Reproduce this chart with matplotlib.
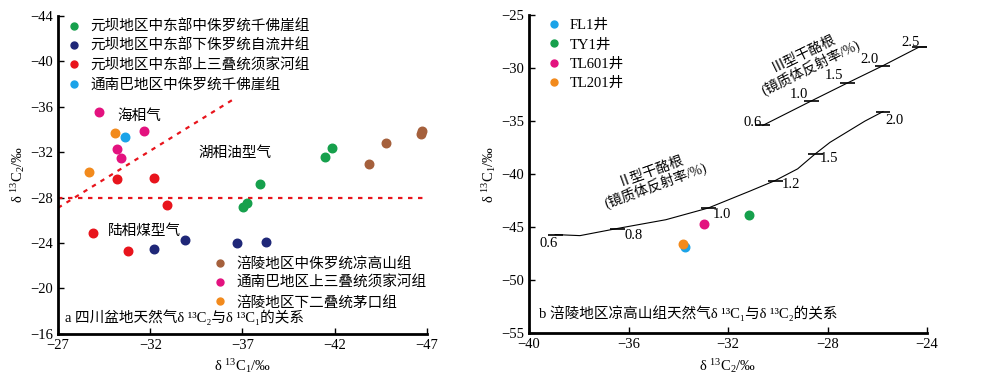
import matplotlib.pyplot as plt
from matplotlib.lines import Line2D

plt.rcParams['font.family'] = ['Liberation Serif', 'Noto Sans CJK SC']
plt.rcParams['mathtext.fontset'] = 'custom'
plt.rcParams['mathtext.rm'] = 'Liberation Serif'
plt.rcParams['mathtext.it'] = 'Liberation Serif:italic'
plt.rcParams['font.size'] = 10.5

# ---- panel a: d13C2 vs d13C1 (Sichuan basin)
groups_a = [
    ('元坝地区中东部中侏罗统千佛崖组', '#16a04c',
     [-37.96, -41.49, -41.83, -37.03, -37.26], [-29.2, -31.6, -32.4, -27.2, -27.5]),
    ('元坝地区中东部下侏罗统自流井组', '#1f2778',
     [-32.19, -33.9, -36.68, -38.3], [-23.5, -24.3, -24.0, -24.1]),
    ('元坝地区中东部上三叠统须家河组', '#e8141c',
     [-30.2, -32.19, -32.89, -28.9, -30.78], [-29.6, -29.7, -27.35, -24.9, -23.3]),
    ('通南巴地区中侏罗统千佛崖组', '#1ba3e8',
     [-30.65], [-33.3]),
    ('涪陵地区中侏罗统凉高山组', '#a5603c',
     [-46.75, -46.68, -44.78, -43.86], [-33.9, -33.6, -32.8, -31.0]),
    ('通南巴地区上三叠统须家河组', '#e3127f',
     [-29.22, -31.68, -30.18, -30.4], [-35.5, -33.85, -32.26, -31.5]),
    ('涪陵地区下二叠统茅口组', '#f28a1c',
     [-30.07, -28.66], [-33.7, -30.3]),
]
xticks_a = [-27, -32, -37, -42, -47]
yticks_a = [-44, -40, -36, -32, -28, -24, -20, -16]
diag_x = [-27.0, -36.65]
diag_y = [-27.1, -36.8]
horiz_y = -28

# ---- panel b: d13C1 vs d13C2 (Fuling)
wells_b = ['FL1井', 'TY1井', 'TL601井', 'TL201井']
colors_b = ['#1ba3e8', '#16a04c', '#e3127f', '#f28a1c']
pts_b_x = [-33.72, -31.16, -32.96, -33.81]
pts_b_y = [-46.9, -43.85, -44.75, -46.57]
# type III kerogen curve, tick positions and Ro labels
t3_x = [-30.6, -28.64, -27.2, -25.8, -24.31]
t3_y = [-35.4, -33.08, -31.4, -29.8, -28.0]
t3_lab = ['0.6', '1.0', '1.5', '2.0', '2.5']
t3_lab_x = [-31.0, -29.14, -27.74, -26.3, -24.68]
t3_lab_y = [-35.1, -32.5, -30.7, -29.2, -27.6]
# type II kerogen curve
t2_line_x = [-38.95, -37.95, -36.46, -34.5, -32.8, -31.12, -30.1, -29.2, -28.5,
             -27.9, -27.2, -26.5, -25.77]
t2_line_y = [-45.7, -45.8, -45.13, -44.3, -43.2, -41.6, -40.6, -39.5, -38.1,
             -37.0, -36.0, -35.0, -34.1]
t2_tick_x = [-38.95, -36.46, -32.8, -30.1, -28.5, -25.77]
t2_tick_y = [-45.7, -45.13, -43.2, -40.6, -38.1, -34.1]
t2_lab = ['0.6', '0.8', '1.0', '1.2', '1.5', '2.0']
t2_lab_x = [-39.2, -35.8, -32.24, -29.47, -27.94, -25.3]
t2_lab_y = [-46.55, -45.75, -43.8, -40.95, -38.5, -34.9]

fig = plt.figure(figsize=(10, 3.79), dpi=100)
ax1 = fig.add_axes([0.058, 0.119, 0.369, 0.839])
ax2 = fig.add_axes([0.529, 0.121, 0.398, 0.839])

for ax in (ax1, ax2):
    for s in ('top', 'right'):
        ax.spines[s].set_visible(False)
    for s in ('left', 'bottom'):
        ax.spines[s].set_linewidth(2)
    ax.tick_params(direction='in', length=4, width=1, labelsize=10.5)

# panel a
handles = []
for name, c, xs, ys in groups_a:
    ax1.scatter(xs, ys, s=38, color=c, zorder=3)
    handles.append(Line2D([], [], marker='o', ls='', color=c, markersize=5, label=name))
ax1.plot(diag_x, diag_y, ls=(0, (2, 2.5)), color='#e8141c', lw=1.6)
ax1.axhline(horiz_y, ls=(0, (2, 2.5)), color='#e8141c', lw=1.6)
ax1.set_xlim(-27, -47)
ax1.set_ylim(-16, -44)
ax1.set_xticks(xticks_a)
ax1.set_yticks(yticks_a)
ax1.set_xticklabels([str(v).replace('-', '−') for v in xticks_a])
ax1.set_yticklabels([str(v).replace('-', '−') for v in yticks_a])
ax1.set_xlabel('δ $\\mathregular{^{13}C_1}$/‰', fontsize=10.5, labelpad=4)
ax1.set_ylabel('δ $\\mathregular{^{13}C_2}$/‰', fontsize=10.5, labelpad=2)
leg1 = ax1.legend(handles=handles[:4], loc='upper left', bbox_to_anchor=(-0.024, 1.02),
                  frameon=False, handletextpad=0.1, labelspacing=0.36, fontsize=10.5,
                  borderaxespad=0.3)
ax1.add_artist(leg1)
ax1.legend(handles=handles[4:], loc='lower left', bbox_to_anchor=(0.364, 0.036),
           frameon=False, handletextpad=0.1, labelspacing=0.36, fontsize=10.5)
ax1.text(-30.2, -35.2, '海相气', fontsize=10.5, va='center')
ax1.text(-34.6, -31.9, '湖相油型气', fontsize=10.5, va='center')
ax1.text(-29.7, -25.1, '陆相煤型气', fontsize=10.5, va='center')
ax1.text(-27.4, -17.5, 'a 四川盆地天然气δ ¹³C₂与δ ¹³C₁的关系',
         fontsize=10.5, va='center')

# panel b
for w, c, x, y in zip(wells_b, colors_b, pts_b_x, pts_b_y):
    ax2.scatter([x], [y], s=38, color=c, zorder=3)
handles_b = [Line2D([], [], marker='o', ls='', color=c, markersize=5, label=w)
             for w, c in zip(wells_b, colors_b)]
ax2.legend(handles=handles_b, loc='upper left', bbox_to_anchor=(0.0, 1.02), frameon=False,
           handletextpad=0.1, labelspacing=0.42, fontsize=10.5, borderaxespad=0.3)
ax2.plot(t3_x + [-24.0], t3_y + [-28.0], color='black', lw=0.8)
ax2.hlines(t3_y, [x - 0.3 for x in t3_x], [x + 0.3 for x in t3_x], color='black', lw=1.2)
for l, x, y in zip(t3_lab, t3_lab_x, t3_lab_y):
    ax2.text(x, y, l, ha='center', va='center', fontsize=10.5)
ax2.plot(t2_line_x, t2_line_y, color='black', lw=0.8)
ax2.hlines(t2_tick_y, [x - 0.3 for x in t2_tick_x], [x + 0.3 for x in t2_tick_x],
           color='black', lw=1.2)
for l, x, y in zip(t2_lab, t2_lab_x, t2_lab_y):
    ax2.text(x, y, l, ha='center', va='center', fontsize=10.5)
ax2.text(-28.8, -29.3, 'Ⅲ型干酪根\n(镜质体反射率/%)', rotation=26, ha='center', va='center',
         fontsize=10, linespacing=1.1, rotation_mode='anchor')
ax2.text(-35.0, -40.4, 'Ⅱ型干酪根\n(镜质体反射率/%)', rotation=20, ha='center', va='center',
         fontsize=10, linespacing=1.1, rotation_mode='anchor')
ax2.text(-39.6, -53.1, 'b 涪陵地区凉高山组天然气δ ¹³C₁与δ ¹³C₂的关系',
         fontsize=10.5, va='center')
ax2.set_xlim(-40, -24)
ax2.set_ylim(-55, -25)
xticks_b = [-40, -36, -32, -28, -24]
yticks_b = [-55, -50, -45, -40, -35, -30, -25]
ax2.set_xticks(xticks_b)
ax2.set_yticks(yticks_b)
ax2.set_xticklabels([str(v).replace('-', '−') for v in xticks_b])
ax2.set_yticklabels([str(v).replace('-', '−') for v in yticks_b])
ax2.set_xlabel('δ $\\mathregular{^{13}C_2}$/‰', fontsize=10.5, labelpad=4)
ax2.set_ylabel('δ $\\mathregular{^{13}C_1}$/‰', fontsize=10.5, labelpad=2)

fig.savefig('out.png', dpi=100)
